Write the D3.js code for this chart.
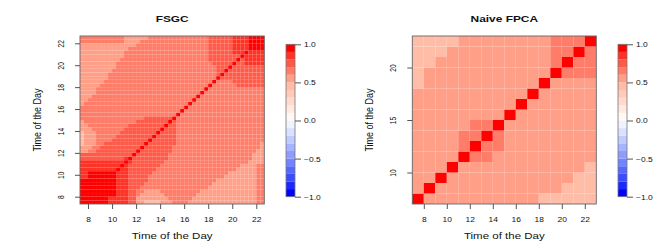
<!DOCTYPE html>
<html><head><meta charset="utf-8">
<script src="https://cdn.jsdelivr.net/npm/d3@7"></script>
<style>
html,body{margin:0;padding:0;background:#fff;}
svg{display:block;}
text{font-family:"Liberation Sans",Arial,Helvetica,sans-serif;fill:#111;}
</style>
</head><body>
<svg id="chart" width="664" height="249"></svg>
<script>
// ---------------- data ----------------
// FSGC: 46 x 46 symmetric correlation grid, times 7.5, 7.833, ... 22.5 (20-min steps)
const fsgcStart = 7.5, fsgcStep = 1 / 3, fsgcN = 46;
// upper triangle, row j lists columns k = j..45 as [level, run length];
// level d stands for a correlation in [d/10, d/10+0.1)
const fsgcUpperRuns = [
  [[9,7],[8,5],[7,2],[5,2],[4,4],[5,3],[6,4],[5,17],[6,2]],
  [[9,6],[8,5],[7,2],[5,8],[6,6],[5,16],[6,2]],
  [[9,7],[8,3],[7,2],[6,1],[5,6],[6,8],[5,15],[6,2]],
  [[9,6],[8,3],[7,2],[6,2],[5,4],[6,10],[5,14],[6,2]],
  [[9,5],[8,3],[7,3],[6,17],[5,12],[6,2]],
  [[9,4],[8,3],[7,4],[6,17],[5,11],[6,2]],
  [[9,3],[8,3],[7,5],[6,17],[5,10],[6,2]],
  [[9,2],[8,3],[7,5],[6,19],[5,8],[6,2]],
  [[9,1],[8,3],[7,6],[6,19],[5,7],[6,2]],
  [[9,1],[8,2],[7,7],[6,20],[5,5],[6,2]],
  [[9,1],[8,1],[7,8],[6,20],[5,4],[6,2]],
  [[9,1],[8,1],[7,8],[6,21],[5,4]],
  [[9,1],[7,9],[6,21],[5,3]],
  [[9,1],[7,8],[6,21],[5,3]],
  [[9,1],[7,8],[6,21],[5,2]],
  [[9,1],[7,7],[6,22],[5,1]],
  [[9,1],[7,7],[6,21],[5,1]],
  [[9,1],[7,6],[6,22]],
  [[9,1],[7,5],[6,22]],
  [[9,1],[7,4],[6,22]],
  [[9,1],[7,3],[6,22]],
  [[9,1],[7,2],[6,22]],
  [[9,1],[7,1],[6,22]],
  [[9,1],[6,22]],
  [[9,1],[6,21]],
  [[9,1],[6,20]],
  [[9,1],[6,19]],
  [[9,1],[6,18]],
  [[9,1],[6,17]],
  [[9,1],[6,16]],
  [[9,1],[6,15]],
  [[9,1],[6,14]],
  [[9,1],[6,6],[7,7]],
  [[9,1],[6,4],[7,8]],
  [[9,1],[7,11]],
  [[9,1],[7,10]],
  [[9,1],[7,9]],
  [[9,1],[7,8]],
  [[9,1],[7,2],[8,5]],
  [[9,1],[7,1],[8,5]],
  [[9,1],[8,5]],
  [[9,1],[8,4]],
  [[9,4]],
  [[9,3]],
  [[9,2]],
  [[9,1]]
];

// Naive FPCA: 16 x 16 hourly grid, times 7.5 ... 22.5; rows bottom (7.5) to top (22.5)
const naiveStart = 7.5, naiveStep = 1, naiveN = 16;
const naiveRows = [
  "9555555555544444",
  "5955555555555444",
  "5595555555555544",
  "5559555555555554",
  "5555966555555555",
  "5555696655555555",
  "5555669655555555",
  "5555566955555555",
  "5555555595555555",
  "5555555559555555",
  "5555555555955555",
  "4555555555595555",
  "4555555555559666",
  "4455555555556966",
  "4445555555556696",
  "4444555555556669"
];

const fsgcXTicks = [8, 10, 12, 14, 16, 18, 20, 22];
const fsgcYTicks = [8, 10, 12, 14, 16, 18, 20, 22];
const naiveXTicks = [8, 10, 12, 14, 16, 18, 20, 22];
const naiveYTicks = [10, 15, 20];
const legendTicks = [-1, -0.5, 0, 0.5, 1];
const legendLabels = ["\u22121.0", "\u22120.5", "0.0", "0.5", "1.0"];
const titles = ["FSGC", "Naive FPCA"];
const axisTitle = "Time of the Day";
// 20 colour bands from -1 (index 0) to 1 (index 19)
const palette = [
  "#0000ff", "#1c28ff", "#3a4cff", "#5668ff", "#7284ff",
  "#8c9cff", "#a6b4ff", "#bfcbff", "#d8e1ff", "#eff3ff",
  "#fff8f5", "#ffeae2", "#ffdacd", "#ffcab9", "#ffbda8",
  "#ff9f88", "#ff7d68", "#ff5a48", "#ff3226", "#ff0000"
];

// ---------------- helpers ----------------
const SX = 1.28;
const svg = d3.select("#chart");
const color = d3.scaleQuantize().domain([-1, 1]).range(palette);
const lvl = d => +d / 10 + 0.05;

function buildFSGC() {
  const m = d3.range(fsgcN).map(() => new Array(fsgcN));
  fsgcUpperRuns.forEach((runs, j) => {
    let k = j;
    runs.forEach(([d, n]) => { for (let t = 0; t < n; t++) { m[j][k] = lvl(d); m[k][j] = lvl(d); k++; } });
  });
  const cells = [];
  for (let j = 0; j < fsgcN; j++) for (let k = 0; k < fsgcN; k++)
    cells.push({x: fsgcStart + k * fsgcStep, y: fsgcStart + j * fsgcStep, v: m[j][k]});
  return cells;
}
function buildNaive() {
  const cells = [];
  naiveRows.forEach((row, j) => row.split("").forEach((d, k) =>
    cells.push({x: naiveStart + k * naiveStep, y: naiveStart + j * naiveStep, v: lvl(d)})));
  return cells;
}

function panel(o) {
  const g = svg.append("g");
  const x = d3.scaleLinear().domain(o.domain).range([o.left, o.right]);
  const y = d3.scaleLinear().domain(o.domain).range([o.bottom, o.top]);
  const h = o.step / 2;
  g.append("g").selectAll("rect").data(o.cells).join("rect")
    .attr("x", d => x(d.x - h)).attr("width", d => x(d.x + h) - x(d.x - h))
    .attr("y", d => y(d.y + h)).attr("height", d => y(d.y - h) - y(d.y + h))
    .attr("fill", d => color(d.v));
  g.append("rect").attr("x", o.left).attr("y", o.top)
    .attr("width", o.right - o.left).attr("height", o.bottom - o.top)
    .attr("fill", "none").attr("stroke", "#666").attr("stroke-width", 0.9);

  const xa = g.append("g").attr("transform", `translate(0,${o.bottom})`)
    .call(d3.axisBottom(x).tickValues(o.xTicks).tickSize(5).tickFormat(d3.format("d")));
  xa.select(".domain").remove();
  xa.selectAll("line").attr("stroke", "#555");
  xa.selectAll("text").attr("y", null).attr("dy", null)
    .attr("transform", `translate(0,${221.7 - o.bottom}) scale(${SX},1)`)
    .attr("font-size", 6.6).attr("fill", "#111");

  const ya = g.append("g").attr("transform", `translate(${o.left},0)`)
    .call(d3.axisLeft(y).tickValues(o.yTicks).tickSize(5).tickFormat(d3.format("d")));
  ya.select(".domain").remove();
  ya.selectAll("line").attr("stroke", "#555");
  ya.selectAll("text").attr("x", null).attr("dy", null)
    .attr("text-anchor", "middle")
    .attr("transform", `translate(${o.ylabX - o.left},0) scale(${SX},1) rotate(-90)`)
    .attr("font-size", 6.6).attr("fill", "#111");

  const cx = (o.left + o.right) / 2;
  g.append("text").attr("text-anchor", "middle").attr("font-weight", "bold").attr("font-size", 9.3)
    .attr("transform", `translate(${cx},21.7) scale(${SX},1)`).text(o.title);
  g.append("text").attr("text-anchor", "middle").attr("font-size", 9)
    .attr("transform", `translate(${cx},239.3) scale(${SX},1)`).text(axisTitle);
  g.append("text").attr("text-anchor", "middle").attr("font-size", 9)
    .attr("transform", `translate(${o.ytitleX},${(o.top + o.bottom) / 2}) scale(${SX},1) rotate(-90)`).text(axisTitle);

  // colour bar
  const ly = d3.scaleLinear().domain([-1, 1]).range([196.7, 44.3]);
  const lg = g.append("g");
  lg.selectAll("rect").data(palette).join("rect")
    .attr("x", o.legX).attr("width", 9)
    .attr("y", (c, i) => ly(-1 + (i + 1) * 0.1)).attr("height", (c, i) => ly(-1 + i * 0.1) - ly(-1 + (i + 1) * 0.1))
    .attr("fill", c => c);
  lg.append("rect").attr("x", o.legX).attr("y", ly(1)).attr("width", 9).attr("height", ly(-1) - ly(1))
    .attr("fill", "none").attr("stroke", "#777").attr("stroke-width", 0.8);
  const la = lg.append("g").attr("transform", `translate(${o.legX + 9},0)`)
    .call(d3.axisRight(ly).tickValues(legendTicks).tickSize(6).tickFormat((d, i) => legendLabels[i]));
  la.select(".domain").remove();
  la.selectAll("line").attr("stroke", "#555");
  la.selectAll("text").attr("x", null).attr("dy", null)
    .attr("transform", `translate(9,2.4) scale(${SX},1)`)
    .attr("font-size", 6.6).attr("fill", "#111");
}

panel({
  cells: buildFSGC(), step: fsgcStep,
  domain: [fsgcStart - fsgcStep / 2, fsgcStart + (fsgcN - 0.5) * fsgcStep],
  left: 80, right: 264.3, top: 36, bottom: 204,
  xTicks: fsgcXTicks, yTicks: fsgcYTicks, title: titles[0],
  ylabX: 64.3, ytitleX: 40.5, legX: 286
});
panel({
  cells: buildNaive(), step: naiveStep,
  domain: [naiveStart - naiveStep / 2, naiveStart + (naiveN - 0.5) * naiveStep],
  left: 412.3, right: 596.3, top: 36, bottom: 204,
  xTicks: naiveXTicks, yTicks: naiveYTicks, title: titles[1],
  ylabX: 396.3, ytitleX: 372.5, legX: 618
});
</script>
</body></html>
